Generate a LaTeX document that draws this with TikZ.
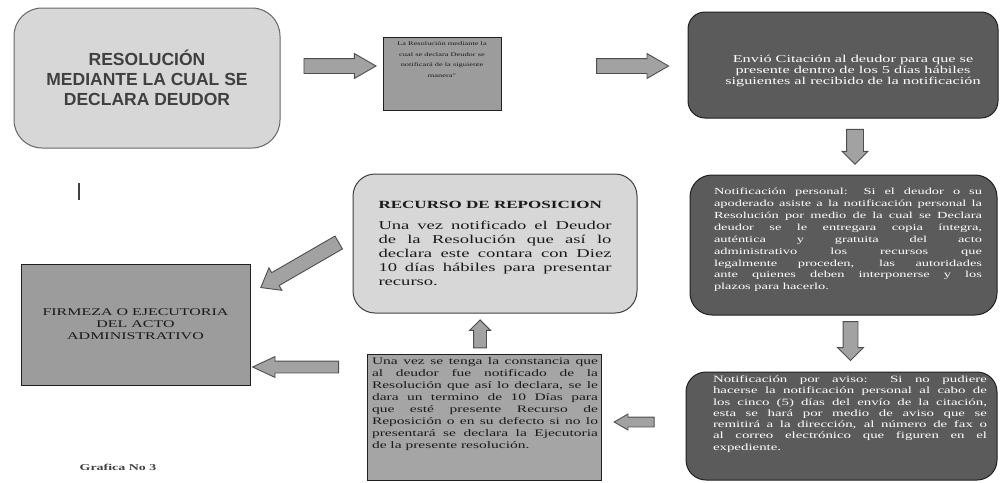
\documentclass[tikz,border=0pt]{standalone}
\usepackage{fontspec}
\usetikzlibrary{shapes.arrows}
\newfontfamily\cajafont[FakeStretch=1.55]{Liberation Serif}
\newfontfamily\titfont{Liberation Sans}
\definecolor{claro}{HTML}{D7D7D7}
\definecolor{medio}{HTML}{9C9C9C}
\definecolor{mediob}{HTML}{A5A5A5}
\definecolor{oscuro}{HTML}{5B5B5B}
\definecolor{gflecha}{HTML}{A2A2A2}
\definecolor{bordeflecha}{HTML}{4E4E4E}
\definecolor{gris10}{HTML}{1A1A1A}
\definecolor{gris25}{HTML}{404040}
\definecolor{gris40}{HTML}{666666}
\definecolor{negro}{HTML}{202020}

\begin{document}
\begin{tikzpicture}[x=1pt, y=-1pt,
    caja/.style={draw=#1, line width=1pt, inner sep=0pt},
    texto/.style={inner sep=0pt},
    flecha/.style={single arrow, draw=bordeflecha, fill=gflecha, line width=0.9pt,
      minimum height=#1, inner xsep=0pt, sloped, allow upside down}]
  \useasboundingbox (0,0) rectangle (1000,482);

  \node[caja=gris40, fill=claro, rounded corners=28pt, minimum width=266pt, minimum height=140pt,
    align=center, text=gris25, font=\titfont\bfseries\fontsize{17.5}{20}\selectfont] (res) at (147,78)
    {RESOLUCIÓN\\MEDIANTE LA CUAL SE\\DECLARA DEUDOR};
  \node[caja=negro, fill=medio, minimum width=118pt, minimum height=73pt] (man) at (442,73.5) {};
  \node[texto, anchor=north, align=center, text=gris10, font=\cajafont\fontsize{5.4}{10.5}\selectfont] (tman) at (442,42)
    {La Resolución mediante la\\cual se declara Deudor se\\notificará de la siguiente\\manera"};
  \node[caja=negro, fill=oscuro, rounded corners=17pt, minimum width=310pt, minimum height=106pt] (cit) at (843,65) {};
  \node[texto, align=center, text=white, font=\cajafont\fontsize{10.5}{10.8}\selectfont] (tcit) at (853,71)
    {Envió Citación al deudor para que se\\presente dentro de los 5 días hábiles\\siguientes al recibido de la notificación};
  \node[caja=negro, fill=oscuro, rounded corners=22pt, minimum width=307pt, minimum height=140pt] (per) at (843.5,245) {};
  \node[texto, text width=268pt, align=justify, text=white, font=\cajafont\fontsize{9.3}{11.9}\selectfont] (tper) at (848,240)
    {Notificación personal: Si el deudor o su\linebreak
     apoderado asiste a la notificación personal la\linebreak
     Resolución por medio de la cual se Declara\linebreak
     deudor se le entregara copia íntegra,\linebreak
     auténtica y gratuita del acto\linebreak
     administrativo los recursos que\linebreak
     legalmente proceden, las autoridades\linebreak
     ante quienes deben interponerse y los\linebreak
     plazos para hacerlo.};
  \node[caja=negro, fill=oscuro, rounded corners=20pt, minimum width=311pt, minimum height=108pt] (avi) at (841.5,426) {};
  \node[texto, text width=274pt, align=justify, text=white, font=\cajafont\fontsize{9.6}{11.3}\selectfont] (tavi) at (850,414)
    {Notificación por aviso: Si no pudiere\linebreak
     hacerse la notificación personal al cabo de\linebreak
     los cinco (5) días del envío de la citación,\linebreak
     esta se hará por medio de aviso que se\linebreak
     remitirá a la dirección, al número de fax o\linebreak
     al correo electrónico que figuren en el\linebreak
     expediente.};
  \node[caja=gris25, fill=claro, rounded corners=22pt, minimum width=284pt, minimum height=139pt,
    text width=233pt, align=justify, text=gris10, font=\cajafont\fontsize{12}{14}\selectfont] (rep) at (495,243.5)
    {{\bfseries\fontsize{11}{14}\selectfont RECURSO DE REPOSICION}\par\vspace{7pt}
     Una vez notificado el Deudor\linebreak
     de la Resolución que así lo\linebreak
     declara este contara con Diez\linebreak
     10 días hábiles para presentar\linebreak
     recurso.};
  \node[caja=negro, fill=mediob, minimum width=234pt, minimum height=126pt] (con) at (484,417) {};
  \node[texto, text width=226pt, align=justify, text=gris10, font=\cajafont\fontsize{10}{12.1}\selectfont] (tcon) at (485,404)
    {Una vez se tenga la constancia que\linebreak
     al deudor fue notificado de la\linebreak
     Resolución que así lo declara, se le\linebreak
     dara un termino de 10 Días para\linebreak
     que esté presente Recurso de\linebreak
     Reposición o en su defecto si no lo\linebreak
     presentará se declara la Ejecutoria\linebreak
     de la presente resolución.};
  \node[caja=negro, fill=medio, minimum width=229pt, minimum height=121pt, align=center, text=gris10,
    font=\cajafont\fontsize{10.3}{12}\selectfont] (fir) at (135.5,324.5) {FIRMEZA O EJECUTORIA\\DEL ACTO\\ADMINISTRATIVO};
  \node[texto, text=gris25, font=\cajafont\bfseries\fontsize{9}{11}\selectfont] (graf) at (118,467) {Grafica No 3};
  \draw[line width=1.3pt, gris25] (79,183) -- (79,200);

  \path ([yshift=12pt]res.east) -- ([yshift=7.5pt]man.west)
    node[flecha=72, pos=0.52, inner ysep=7pt, single arrow head extend=5pt, single arrow tip angle=60] (f1) {};
  \path ([yshift=7.5pt]man.east) -- ([yshift=-1pt]cit.west)
    node[flecha=72, pos=0.67, inner ysep=7pt, single arrow head extend=5pt, single arrow tip angle=60] (f2) {};
  \path ([xshift=12pt]cit.south) -- ([xshift=11.5pt]per.north)
    node[flecha=35, pos=0.43, inner ysep=8pt, single arrow head extend=4.5pt] (f3) {};
  \path ([xshift=7pt]per.south) -- ([xshift=9pt]avi.north)
    node[flecha=39, pos=0.39, inner ysep=7pt, single arrow head extend=5.5pt] (f4) {};
  \path ([yshift=4pt]avi.west) -- ([yshift=-5pt]con.east)
    node[flecha=40, pos=0.56, inner ysep=4.5pt, single arrow head extend=3pt, single arrow tip angle=60] (f5) {};
  \path ([xshift=-4pt]con.north) -- ([xshift=-15pt]rep.south)
    node[flecha=28, pos=0.41, inner ysep=6pt, single arrow head extend=4pt] (f6) {};
  \path ([yshift=50pt]con.west) -- ([yshift=-42.5pt]fir.east)
    node[flecha=86, pos=0.556, inner ysep=5.5pt, single arrow head extend=4.5pt, single arrow tip angle=50] (f7) {};
  \path ([yshift=9pt]rep.west) -- ([yshift=31pt]fir.east)
    node[flecha=90, pos=0.476, inner ysep=7pt, single arrow head extend=5.5pt, single arrow tip angle=75] (f8) {};
\end{tikzpicture}
\end{document}
